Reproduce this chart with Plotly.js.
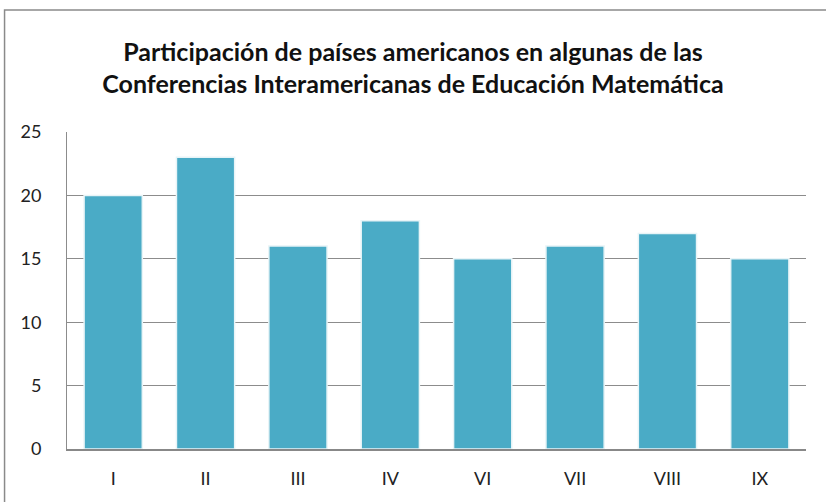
<!DOCTYPE html>
<html>
<head>
<meta charset="utf-8">
<script src="https://cdn.plot.ly/plotly-3.0.1.min.js"></script>
<style>
html,body{margin:0;padding:0;background:#fff;}
#chart{width:826px;height:502px;}
</style>
</head>
<body>
<div id="chart"></div>
<script>
const categories = ["I", "II", "III", "IV", "VI", "VII", "VIII", "IX"];
const participants = [20, 23, 16, 18, 15, 16, 17, 15];
const yTicks = [0, 5, 10, 15, 20, 25];

const trace = {
  type: "bar",
  x: categories,
  y: participants,
  marker: { color: "#4AABC6", line: { color: "#E8F4F7", width: 1.5 } },
  hoverinfo: "x+y"
};

const layout = {
  width: 826,
  height: 502,
  margin: { l: 67, r: 20, t: 132, b: 53 },
  paper_bgcolor: "#ffffff",
  plot_bgcolor: "#ffffff",
  bargap: 0.37,
  showlegend: false,
  font: { family: "Lato, 'Open Sans', sans-serif", color: "#222222", size: 18 },
  title: {
    text: "<b>Participación de países americanos en algunas de las<br>Conferencias Interamericanas de Educación Matemática</b>",
    font: { family: "Lato, 'Open Sans', sans-serif", size: 25, color: "#111111" },
    x: 0.5, xanchor: "center",
    y: 0.879, yanchor: "middle"
  },
  xaxis: {
    type: "category",
    showgrid: false,
    showline: true,
    linecolor: "#888888",
    linewidth: 1.5,
    ticks: "",
    tickfont: { size: 18, color: "#222222" },
    ticklabelstandoff: 13
  },
  yaxis: {
    range: [0, 25],
    tickvals: yTicks,
    showgrid: true,
    gridcolor: "#8c8c8c",
    gridwidth: 1.2,
    showline: true,
    linecolor: "#8c8c8c",
    linewidth: 1,
    zeroline: false,
    ticks: "",
    ticklabelstandoff: 21,
    tickfont: { size: 18, color: "#222222" }
  },
  shapes: [{
    type: "rect",
    xref: "paper", yref: "paper",
    x0: -0.0845, x1: 1.2, y0: -0.5, y1: 1.385,
    line: { color: "#8a8a8a", width: 1.5 },
    fillcolor: "rgba(0,0,0,0)",
    layer: "below"
  }]
};

Plotly.newPlot("chart", [trace], layout, { displayModeBar: false, staticPlot: true });
</script>
</body>
</html>
